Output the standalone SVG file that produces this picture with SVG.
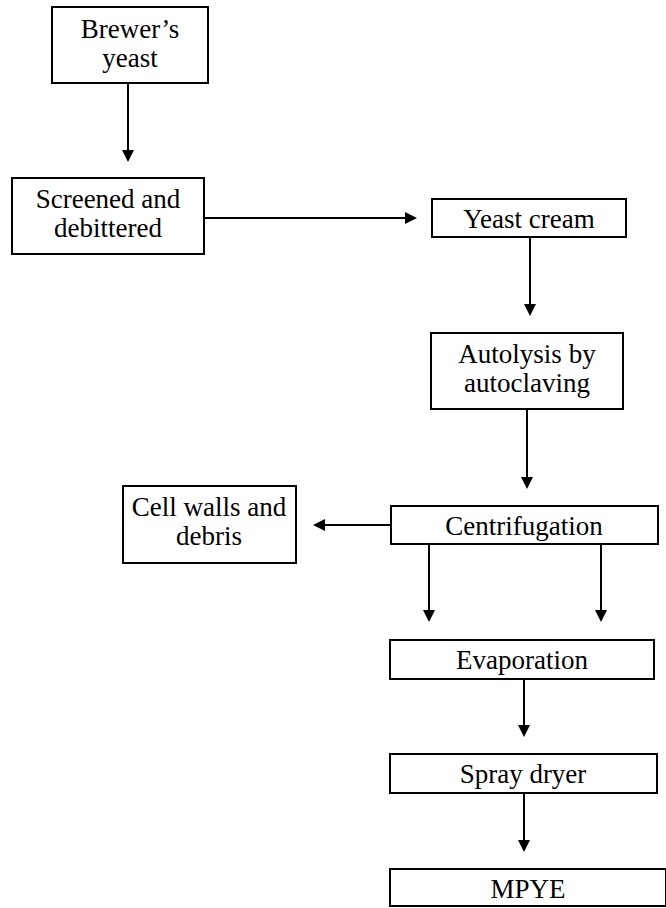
<svg xmlns="http://www.w3.org/2000/svg" width="666" height="908" viewBox="0 0 666 908">
<style>
.box{fill:#fff;stroke:#000;stroke-width:2}
.t{font-family:'Liberation Serif','Times New Roman',serif;font-size:27px;fill:#000;text-anchor:middle}
.c{stroke:#000;stroke-width:2;fill:none}
</style>
<defs>
<marker id="ah" markerWidth="12" markerHeight="12" refX="10" refY="6" orient="auto" markerUnits="userSpaceOnUse">
<path d="M0,0 L12,6 L0,12 Z" fill="#000"/>
</marker>
</defs>
<rect width="666" height="908" fill="#fff"/>
<g id="connectors">
<line class="c" x1="128" y1="83" x2="128" y2="160" marker-end="url(#ah)"/>
<line class="c" x1="204" y1="218" x2="415" y2="218" marker-end="url(#ah)"/>
<line class="c" x1="530" y1="237" x2="530" y2="314" marker-end="url(#ah)"/>
<line class="c" x1="527" y1="409" x2="527" y2="487" marker-end="url(#ah)"/>
<line class="c" x1="391" y1="525" x2="315" y2="525" marker-end="url(#ah)"/>
<line class="c" x1="429" y1="544" x2="429" y2="620" marker-end="url(#ah)"/>
<line class="c" x1="601" y1="544" x2="601" y2="620" marker-end="url(#ah)"/>
<line class="c" x1="524" y1="679" x2="524" y2="735" marker-end="url(#ah)"/>
<line class="c" x1="524" y1="793" x2="524" y2="850" marker-end="url(#ah)"/>
</g>
<g id="brewers-yeast">
<rect class="box" x="52" y="7" width="156" height="76"/>
<text class="t" x="130" y="38">Brewer’s</text>
<text class="t" x="130" y="67">yeast</text>
</g>
<g id="screened">
<rect class="box" x="12" y="178" width="192" height="76"/>
<text class="t" x="108" y="208">Screened and</text>
<text class="t" x="108" y="237">debittered</text>
</g>
<g id="yeast-cream">
<rect class="box" x="432" y="199" width="194" height="38"/>
<text class="t" x="529" y="228">Yeast cream</text>
</g>
<g id="autolysis">
<rect class="box" x="431" y="333" width="192" height="76"/>
<text class="t" x="527" y="363">Autolysis by</text>
<text class="t" x="527" y="392">autoclaving</text>
</g>
<g id="centrifugation">
<rect class="box" x="391" y="506" width="267" height="38"/>
<text class="t" x="524" y="535">Centrifugation</text>
</g>
<g id="cell-walls">
<rect class="box" x="123" y="486" width="173" height="77"/>
<text class="t" x="209" y="516">Cell walls and</text>
<text class="t" x="209" y="545">debris</text>
</g>
<g id="evaporation">
<rect class="box" x="390" y="640" width="264" height="39"/>
<text class="t" x="522" y="669">Evaporation</text>
</g>
<g id="spray-dryer">
<rect class="box" x="390" y="754" width="267" height="39"/>
<text class="t" x="523" y="783">Spray dryer</text>
</g>
<g id="mpye">
<rect class="box" x="390" y="869" width="276" height="37"/>
<text class="t" x="528" y="898">MPYE</text>
</g>
</svg>
